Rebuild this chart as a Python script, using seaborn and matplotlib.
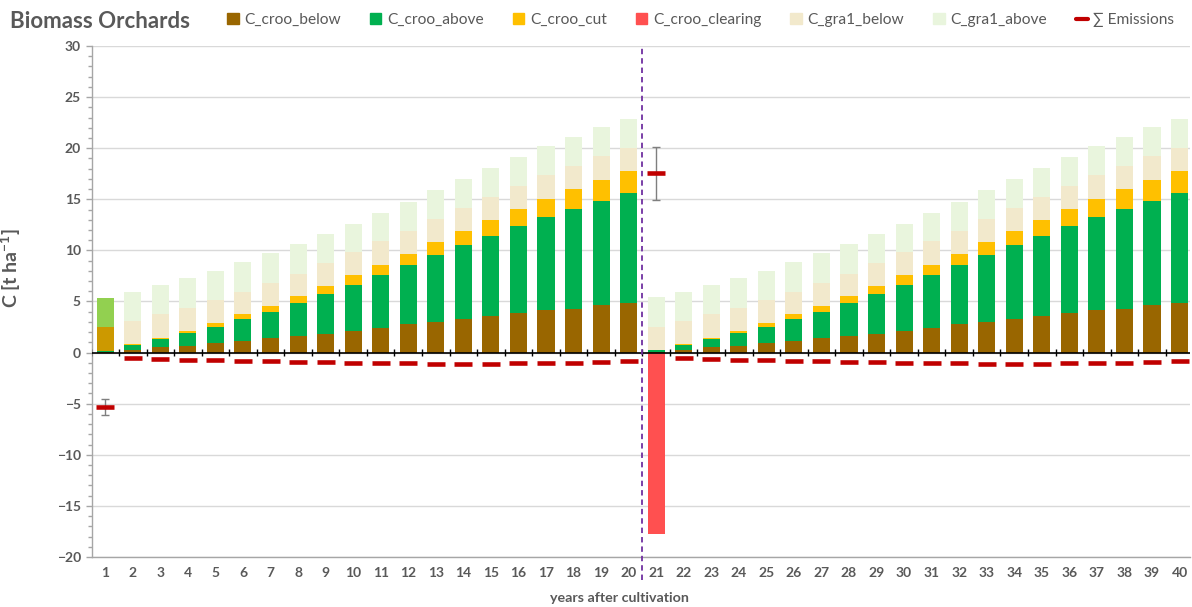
import numpy as np
import pandas as pd
import matplotlib
matplotlib.use("Agg")
import matplotlib.pyplot as plt
from matplotlib.patches import Patch
from matplotlib.lines import Line2D
from matplotlib.ticker import MultipleLocator
import seaborn as sns

# ---- data (t C per ha) -------------------------------------------------
years = [str(i) for i in range(1, 41)]

c_croo_below = [0.05, 0.30, 0.50, 0.69, 0.92, 1.12, 1.38, 1.60, 1.86, 2.16,
                2.45, 2.75, 3.04, 3.30, 3.63, 3.86, 4.12, 4.31, 4.61, 4.84,
                0.05, 0.30, 0.50, 0.69, 0.92, 1.12, 1.38, 1.60, 1.86, 2.16,
                2.45, 2.75, 3.04, 3.30, 3.63, 3.86, 4.12, 4.31, 4.61, 4.84]
c_croo_above = [0.07, 0.45, 0.81, 1.21, 1.60, 2.12, 2.64, 3.24, 3.83, 4.48,
                5.10, 5.78, 6.47, 7.19, 7.78, 8.49, 9.12, 9.78, 10.26, 10.75,
                0.21, 0.45, 0.81, 1.21, 1.60, 2.12, 2.64, 3.24, 3.83, 4.48,
                5.10, 5.78, 6.47, 7.19, 7.78, 8.49, 9.12, 9.78, 10.26, 10.75]
c_croo_cut = [0.08, 0.13, 0.16, 0.26, 0.39, 0.49, 0.56, 0.65, 0.78, 0.91,
              1.05, 1.15, 1.29, 1.41, 1.53, 1.67, 1.83, 1.93, 2.03, 2.16,
              0.00, 0.13, 0.16, 0.26, 0.39, 0.49, 0.56, 0.65, 0.78, 0.91,
              1.05, 1.15, 1.29, 1.41, 1.53, 1.67, 1.83, 1.93, 2.03, 2.16]
c_croo_clearing = [0.0] * 20 + [-17.75] + [0.0] * 19
c_gra1_below = [2.30, 2.26, 2.26, 2.25, 2.26, 2.22, 2.25, 2.21, 2.29, 2.25,
                2.30, 2.25, 2.28, 2.29, 2.29, 2.29, 2.28, 2.25, 2.29, 2.29,
                2.29, 2.26, 2.26, 2.25, 2.26, 2.22, 2.25, 2.21, 2.29, 2.25,
                2.30, 2.25, 2.28, 2.29, 2.29, 2.29, 2.28, 2.25, 2.29, 2.29]
c_gra1_above = [2.86, 2.81, 2.84, 2.89, 2.83, 2.90, 2.87, 2.90, 2.84, 2.80,
                2.80, 2.84, 2.80, 2.81, 2.85, 2.85, 2.82, 2.83, 2.84, 2.80,
                2.85, 2.81, 2.84, 2.89, 2.83, 2.90, 2.87, 2.90, 2.84, 2.80,
                2.80, 2.84, 2.80, 2.81, 2.85, 2.85, 2.82, 2.83, 2.84, 2.80]
emissions = [-5.30, -0.52, -0.59, -0.68, -0.72, -0.78, -0.82, -0.88, -0.95, -1.00,
             -1.03, -1.05, -1.07, -1.08, -1.08, -1.06, -1.02, -0.97, -0.90, -0.82,
             17.55, -0.52, -0.59, -0.68, -0.72, -0.78, -0.82, -0.88, -0.95, -1.00,
             -1.03, -1.05, -1.07, -1.08, -1.08, -1.06, -1.02, -0.97, -0.90, -0.82]
emis_err = [0.80] + [0.0] * 19 + [2.60] + [0.0] * 19

# ---- colours -------------------------------------------------------------
COL_BELOW = "#996600"
COL_ABOVE = "#00B050"
COL_CUT = "#FFC000"
COL_CLEAR = "#FF5050"
COL_GB = "#F2E9CC"
COL_GA = "#E9F5DD"
COL_GB_START = "#CC9900"
COL_GA_START = "#92D050"
COL_EMIS = "#C00000"
TXT = "#595959"
AX = "#A6A6A6"

sns.set_theme(style="white")
plt.rcParams["font.family"] = ["Lato", "DejaVu Sans"]
plt.rcParams["mathtext.default"] = "regular"

df = pd.DataFrame({
    "year": years,
    "below": c_croo_below,
    "above": c_croo_above,
    "cut": c_croo_cut,
    "clearing": c_croo_clearing,
    "gra_below": c_gra1_below,
    "gra_above": c_gra1_above,
})
# cumulative stack heights
df["s1"] = df["below"]
df["s2"] = df["s1"] + df["above"]
df["s3"] = df["s2"] + df["cut"]
df["s4"] = df["s3"] + df["gra_below"]
df["s5"] = df["s4"] + df["gra_above"]

fig = plt.figure(figsize=(11.92, 6.07), dpi=100)
ax = fig.add_axes([92 / 1192, 1 - 557 / 607, 1098 / 1192, 511 / 607])

W = 0.62
pal_ga = {y: (COL_GA_START if i == 0 else COL_GA) for i, y in enumerate(years)}
pal_gb = {y: (COL_GB_START if i == 0 else COL_GB) for i, y in enumerate(years)}

common = dict(data=df, x="year", order=years, width=W, errorbar=None,
              saturation=1, linewidth=0, ax=ax)
sns.barplot(y="s5", hue="year", palette=pal_ga, legend=False, **common)
sns.barplot(y="s4", hue="year", palette=pal_gb, legend=False, **common)
sns.barplot(y="s3", color=COL_CUT, **common)
sns.barplot(y="s2", color=COL_ABOVE, **common)
sns.barplot(y="s1", color=COL_BELOW, **common)
sns.barplot(y="clearing", color=COL_CLEAR, **common)

pos = np.arange(len(years))

# zero line with category separators
ax.axhline(0, color="black", lw=1.2, zorder=4)
ax.vlines(np.append(pos - 0.5, pos[-1] + 0.5), -0.35, 0.35, color="black",
          lw=1, zorder=4)

# emissions markers and their uncertainty
err = np.array(emis_err)
em = np.array(emissions)
m = err > 0
ax.errorbar(pos[m], em[m], yerr=err[m], fmt="none", ecolor="#7F7F7F",
            elinewidth=1, capsize=3, capthick=1, zorder=5)
ax.plot(pos, em, ls="none", marker="_", ms=13.5, mew=3.3, color=COL_EMIS,
        zorder=6)

# change of rotation
ax.axvline(19.5, ymin=-0.045, ymax=1, color="#7030A0", ls=(0, (3, 2.2)),
           lw=1.3, zorder=5, clip_on=False)

# axes styling
ax.set_xlim(-0.48, 39.38)
ax.set_ylim(-20, 30)
ax.set_yticks(np.arange(-20, 31, 5))
ax.yaxis.set_minor_locator(MultipleLocator(1))
ax.yaxis.grid(True, which="major", color="#D9D9D9", lw=1)
ax.set_axisbelow(True)
for s in ["top", "right"]:
    ax.spines[s].set_visible(False)
for s in ["left", "bottom"]:
    ax.spines[s].set_color(AX)
    ax.spines[s].set_linewidth(1)
ax.tick_params(axis="y", which="both", direction="out", color=AX, width=1,
               left=True)
ax.tick_params(axis="y", which="major", length=4, labelsize=10,
               labelcolor=TXT, pad=4)
ax.tick_params(axis="y", which="minor", length=3)
ax.tick_params(axis="x", length=0, labelsize=10, labelcolor=TXT, pad=7)
for lab in ax.get_xticklabels() + ax.get_yticklabels():
    lab.set_fontweight("bold")

ax.set_xlabel("")
ax.set_ylabel("C [t ha$^{-1}$]", fontsize=14, fontweight="bold", color=TXT)
ax.yaxis.set_label_coords(-0.063, 0.566)

fig.text(619 / 1192, 1 - 598 / 607, "years after cultivation", fontsize=10.3,
         fontweight="bold", color=TXT, ha="center", va="center")
fig.text(10 / 1192, 1 - 28 / 607, "Biomass Orchards", fontsize=16,
         fontweight="bold", color=TXT, ha="left", va="baseline")

handles = [
    Patch(color=COL_BELOW, label="C_croo_below"),
    Patch(color=COL_ABOVE, label="C_croo_above"),
    Patch(color=COL_CUT, label="C_croo_cut"),
    Patch(color=COL_CLEAR, label="C_croo_clearing"),
    Patch(color=COL_GB, label="C_gra1_below"),
    Patch(color=COL_GA, label="C_gra1_above"),
    Line2D([], [], color=COL_EMIS, lw=3, label="∑ Emissions"),
]
fig.legend(handles=handles, loc="center left",
           bbox_to_anchor=(227 / 1192, 1 - 20 / 607), ncol=7, frameon=False,
           fontsize=11.2, handlelength=0.75, handleheight=0.75,
           handletextpad=0.35, columnspacing=1.87, borderpad=0,
           borderaxespad=0, labelcolor=TXT)

fig.savefig("out.png", dpi=100)
